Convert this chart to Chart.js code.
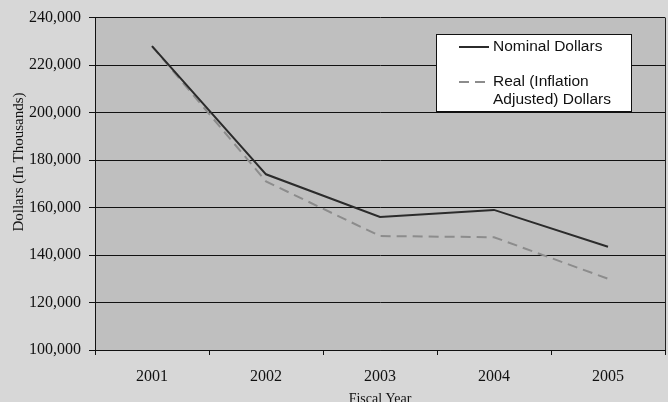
<!DOCTYPE html>
<html>
<head>
<meta charset="utf-8">
<script src="https://cdn.jsdelivr.net/npm/chart.js@4"></script>
<style>
html,body{margin:0;padding:0;background:#d7d7d7;}
#wrap{width:668px;height:402px;position:relative;}
</style>
</head>
<body>
<div id="wrap"><canvas id="c" width="668" height="402"></canvas></div>
<script>
const years = ['2001', '2002', '2003', '2004', '2005'];
const nominalDollars = [228000, 174000, 156000, 159000, 143500];
const realDollars = [228000, 171000, 148000, 147500, 130000];
const seriesNames = ['Nominal Dollars', 'Real (Inflation Adjusted) Dollars'];
const legendLines = [['Nominal Dollars'], ['Real (Inflation', 'Adjusted) Dollars']];
const xTitle = 'Fiscal Year';
const yTitle = 'Dollars (In Thousands)';

const bgPlugin = {
  id: 'bgPlugin',
  beforeDraw(chart) {
    const {ctx, width, height, chartArea: a} = chart;
    ctx.save();
    ctx.fillStyle = '#d7d7d7';
    ctx.fillRect(0, 0, width, height);
    ctx.fillStyle = '#bfbfbf';
    ctx.fillRect(a.left, a.top, a.right - a.left, a.bottom - a.top);
    ctx.restore();
  },
  afterDraw(chart) {
    const {ctx, chartArea: a} = chart;
    ctx.save();
    // right border
    ctx.strokeStyle = '#222';
    ctx.lineWidth = 1;
    ctx.beginPath();
    ctx.moveTo(a.right + 0.5, a.top);
    ctx.lineTo(a.right + 0.5, a.bottom);
    ctx.stroke();
    // axis titles
    ctx.fillStyle = '#111';
    ctx.textAlign = 'center';
    ctx.textBaseline = 'middle';
    ctx.font = '14px "Liberation Serif", "Times New Roman", serif';
    ctx.fillText(xTitle, 380, 399);
    ctx.save();
    ctx.translate(19, 162);
    ctx.rotate(-Math.PI / 2);
    ctx.font = '15px "Liberation Serif", "Times New Roman", serif';
    ctx.fillText(yTitle, 0, 0);
    ctx.restore();
    // legend
    const bx = 436, by = 34, bw = 195, bh = 77;
    ctx.fillStyle = '#ffffff';
    ctx.fillRect(bx, by, bw, bh);
    ctx.strokeStyle = '#111';
    ctx.lineWidth = 1;
    ctx.strokeRect(bx + 0.5, by + 0.5, bw, bh);
    const ds = chart.data.datasets;
    const rows = [47, 82];
    ctx.font = '15.5px "Liberation Sans", Arial, sans-serif';
    ctx.textAlign = 'left';
    ds.forEach((d, i) => {
      ctx.save();
      ctx.strokeStyle = d.borderColor;
      ctx.lineWidth = d.borderWidth;
      ctx.setLineDash(d.borderDash || []);
      ctx.beginPath();
      ctx.moveTo(459, rows[i]);
      ctx.lineTo(489, rows[i]);
      ctx.stroke();
      ctx.restore();
      ctx.fillStyle = '#111';
      legendLines[i].forEach((t, j) => {
        ctx.fillText(t, 493, rows[i] + j * 18);
      });
    });
    ctx.restore();
  }
};

new Chart(document.getElementById('c'), {
  type: 'line',
  data: {
    labels: years,
    datasets: [
      {
        label: seriesNames[0],
        data: nominalDollars,
        borderColor: '#2b2b2b',
        borderWidth: 2,
        pointRadius: 0,
        tension: 0,
        fill: false
      },
      {
        label: seriesNames[1],
        data: realDollars,
        borderColor: '#8c8c8c',
        borderWidth: 2,
        borderDash: [10, 6],
        pointRadius: 0,
        tension: 0,
        fill: false
      }
    ]
  },
  options: {
    responsive: false,
    animation: false,
    devicePixelRatio: 1,
    layout: { padding: { left: 0, right: 3, top: 13, bottom: 0 } },
    plugins: {
      legend: { display: false },
      tooltip: { enabled: false },
      title: { display: false }
    },
    scales: {
      x: {
        type: 'category',
        offset: true,
        grid: {
          offset: true,
          drawOnChartArea: false,
          drawTicks: true,
          tickLength: 5,
          color: '#111'
        },
        border: { display: true, color: '#111', width: 1 },
        ticks: {
          color: '#111',
          padding: 12,
          maxRotation: 0,
          font: { family: '"Liberation Serif", "Times New Roman", serif', size: 16 }
        },
        afterFit(scale) { scale.height = 52; }
      },
      y: {
        min: 100000,
        max: 240000,
        ticks: {
          stepSize: 20000,
          color: '#111',
          padding: 8,
          font: { family: '"Liberation Serif", "Times New Roman", serif', size: 16 },
          callback: v => v.toLocaleString('en-US')
        },
        grid: {
          color: '#111',
          lineWidth: 1,
          drawTicks: true,
          tickLength: 6
        },
        border: { display: true, color: '#111', width: 1 },
        afterFit(scale) { scale.width = 95; }
      }
    }
  },
  plugins: [bgPlugin]
});
</script>
</body>
</html>
